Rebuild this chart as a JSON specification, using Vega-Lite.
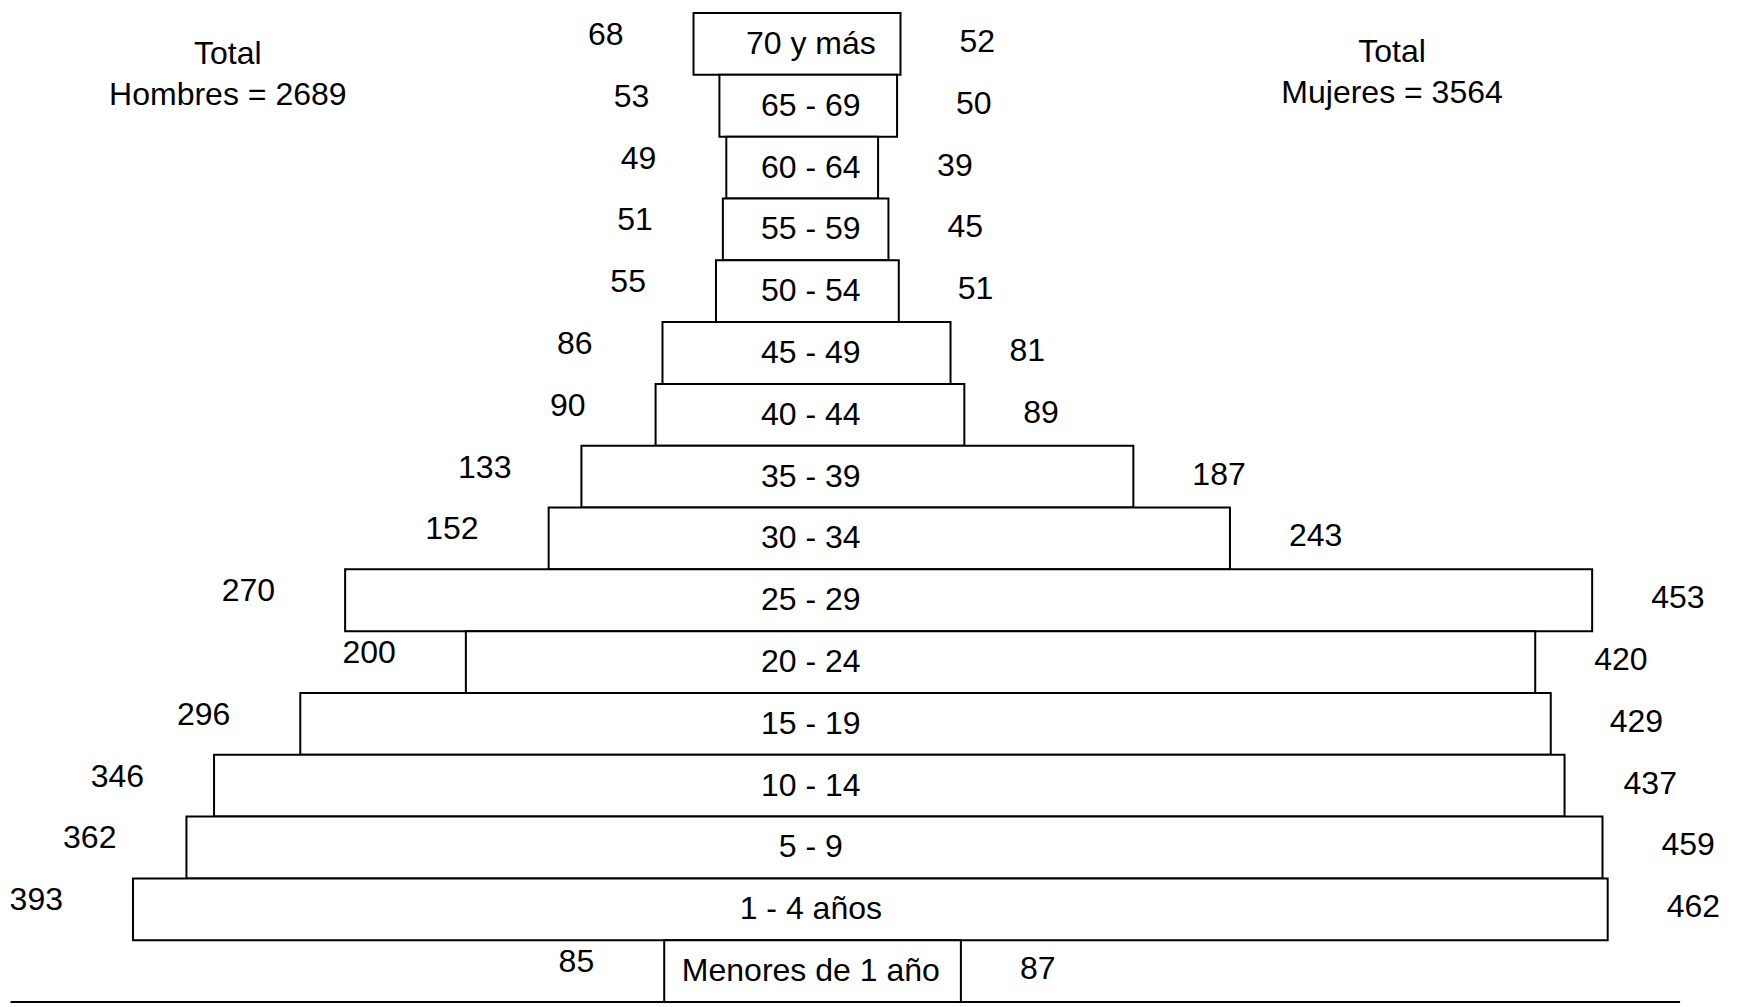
{
  "$schema": "https://vega.github.io/schema/vega-lite/v6.json",
  "width": 1756,
  "height": 1007,
  "autosize": {"type": "fit", "contains": "padding"},
  "padding": {"left": 0, "right": 0, "top": 12, "bottom": 4},
  "background": "white",
  "config": {"view": {"stroke": null}, "font": "Liberation Sans"},
  "datasets": {
    "piramide": [
      {"grupo": "70 y más", "hombres": 68, "mujeres": 52},
      {"grupo": "65 - 69", "hombres": 53, "mujeres": 50},
      {"grupo": "60 - 64", "hombres": 49, "mujeres": 39},
      {"grupo": "55 - 59", "hombres": 51, "mujeres": 45},
      {"grupo": "50 - 54", "hombres": 55, "mujeres": 51},
      {"grupo": "45 - 49", "hombres": 86, "mujeres": 81},
      {"grupo": "40 - 44", "hombres": 90, "mujeres": 89},
      {"grupo": "35 - 39", "hombres": 133, "mujeres": 187},
      {"grupo": "30 - 34", "hombres": 152, "mujeres": 243},
      {"grupo": "25 - 29", "hombres": 270, "mujeres": 453},
      {"grupo": "20 - 24", "hombres": 200, "mujeres": 420},
      {"grupo": "15 - 19", "hombres": 296, "mujeres": 429},
      {"grupo": "10 - 14", "hombres": 346, "mujeres": 437},
      {"grupo": "5 - 9", "hombres": 362, "mujeres": 459},
      {"grupo": "1 - 4 años", "hombres": 393, "mujeres": 462},
      {"grupo": "Menores de 1 año", "hombres": 85, "mujeres": 87}
    ]
  },
  "layer": [
    {
      "data": {"name": "piramide"},
      "transform": [{"calculate": "-datum.hombres", "as": "hombres_izq"}],
      "mark": {"type": "bar", "fill": "white", "stroke": "black", "strokeWidth": 2},
      "encoding": {
        "y": {"field": "grupo", "type": "nominal", "sort": null, "axis": null, "scale": {"paddingInner": 0, "paddingOuter": 0}},
        "x": {"field": "hombres_izq", "type": "quantitative", "axis": null, "scale": {"domain": [-470.1, 548], "nice": false, "zero": false}},
        "x2": {"field": "mujeres"}
      }
    },
    {
      "data": {"name": "piramide"},
      "mark": {"type": "text", "align": "center", "baseline": "middle", "fontSize": 32, "color": "black"},
      "encoding": {
        "y": {"field": "grupo", "type": "nominal", "sort": null},
        "x": {"datum": 0, "type": "quantitative"},
        "text": {"field": "grupo"}
      }
    },
    {
      "data": {"name": "piramide"},
      "transform": [{"calculate": "-datum.hombres", "as": "hombres_izq"}],
      "mark": {"type": "text", "align": "right", "baseline": "middle", "fontSize": 32, "dx": -70, "dy": -9, "color": "black"},
      "encoding": {
        "y": {"field": "grupo", "type": "nominal", "sort": null},
        "x": {"field": "hombres_izq", "type": "quantitative"},
        "text": {"field": "hombres"}
      }
    },
    {
      "data": {"name": "piramide"},
      "mark": {"type": "text", "align": "left", "baseline": "middle", "fontSize": 32, "dx": 59, "dy": -2, "color": "black"},
      "encoding": {
        "y": {"field": "grupo", "type": "nominal", "sort": null},
        "x": {"field": "mujeres", "type": "quantitative"},
        "text": {"field": "mujeres"}
      }
    },
    {
      "data": {"values": [{}]},
      "mark": {"type": "rule", "color": "black", "strokeWidth": 2, "yOffset": 31},
      "encoding": {
        "y": {"datum": "Menores de 1 año", "type": "nominal"},
        "x": {"datum": -464, "type": "quantitative"},
        "x2": {"datum": 504}
      }
    },
    {
      "data": {"values": [{}]},
      "mark": {"type": "text", "align": "center", "baseline": "middle", "fontSize": 32, "lineHeight": 41, "dy": 10, "color": "black", "text": ["Total", "Hombres = 2689"]},
      "encoding": {
        "y": {"datum": "70 y más", "type": "nominal"},
        "x": {"datum": -338, "type": "quantitative"}
      }
    },
    {
      "data": {"values": [{}]},
      "mark": {"type": "text", "align": "center", "baseline": "middle", "fontSize": 32, "lineHeight": 41, "dy": 8, "color": "black", "text": ["Total", "Mujeres = 3564"]},
      "encoding": {
        "y": {"datum": "70 y más", "type": "nominal"},
        "x": {"datum": 337, "type": "quantitative"}
      }
    }
  ]
}
